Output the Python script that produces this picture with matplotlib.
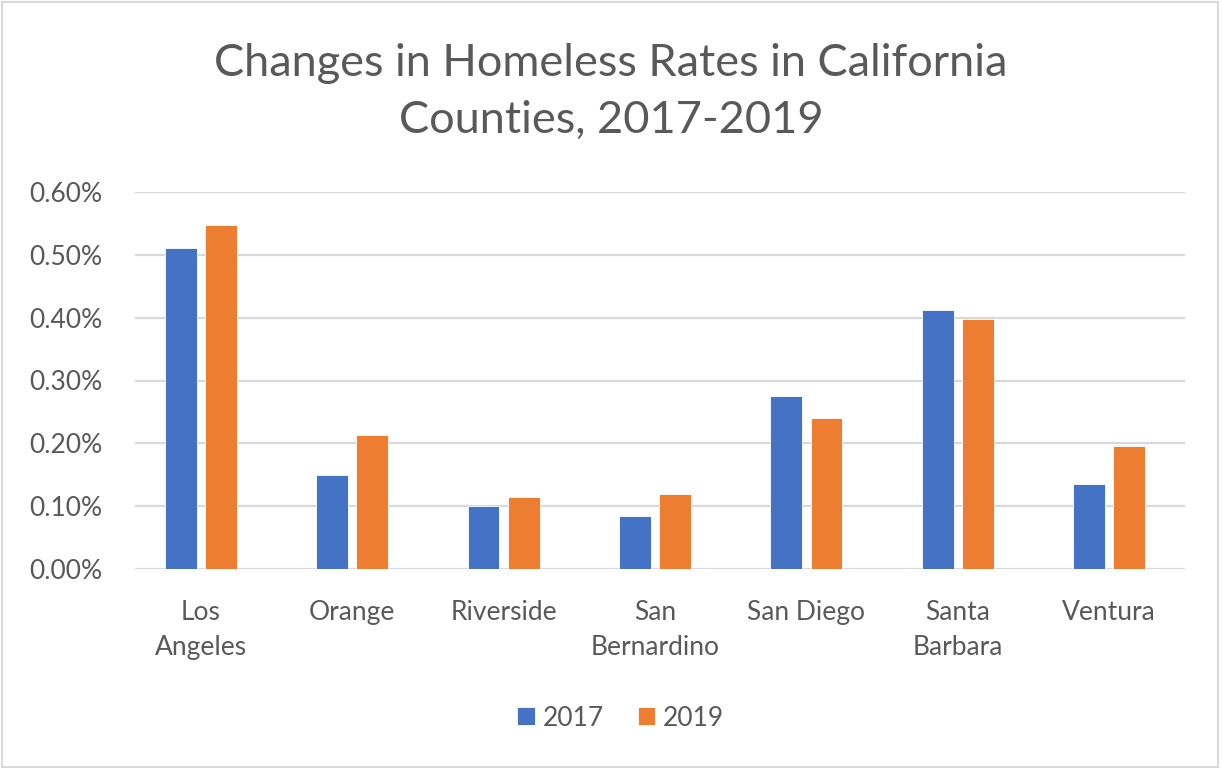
import numpy as np
import matplotlib.pyplot as plt
from matplotlib.patches import Rectangle
from matplotlib.ticker import FuncFormatter

# county labels and homeless rates (%)
counties = ['Los\nAngeles', 'Orange', 'Riverside', 'San\nBernardino',
            'San Diego', 'Santa\nBarbara', 'Ventura']
rate_2017 = [0.511, 0.150, 0.100, 0.084, 0.275, 0.412, 0.135]
rate_2019 = [0.548, 0.213, 0.114, 0.119, 0.240, 0.398, 0.196]

blue = '#4472C4'
orange = '#ED7D31'
text_gray = '#595959'

plt.rcParams['font.family'] = ['Lato', 'DejaVu Sans']

fig = plt.figure(figsize=(12.22, 7.69), dpi=100)
ax = fig.add_axes([125 / 1222, 1 - 569 / 769, 1060 / 1222, (569 - 192) / 769])

x = np.arange(len(counties))
w = 0.21
gap = 0.055
ax.bar(x - (w + gap) / 2, rate_2017, w, color=blue, edgecolor='white', linewidth=0.6, label='2017', zorder=3)
ax.bar(x + (w + gap) / 2, rate_2019, w, color=orange, edgecolor='white', linewidth=0.6, label='2019', zorder=3)

ax.set_xlim(-0.5, len(counties) - 0.5)
ax.set_ylim(0, 0.6)
yt = np.arange(0, 0.61, 0.1)
ax.set_yticks(yt)
ax.yaxis.set_major_formatter(FuncFormatter(lambda v, p: f'{v:.2f}%'))
# gridlines start a little right of the plot edge, as in the original
ax.hlines(yt, -0.434, len(counties) - 0.5, color='#D9D9D9', linewidth=1.6, zorder=0)
for s in ax.spines.values():
    s.set_visible(False)
ax.tick_params(axis='both', length=0, labelsize=19, colors=text_gray)
ax.tick_params(axis='y', pad=16)
ax.tick_params(axis='x', pad=22)
ax.set_xticks(x)
ax.set_xticklabels(counties, linespacing=1.5, va='top')

fig.text(0.5, 1 - 92 / 769, 'Changes in Homeless Rates in California\nCounties, 2017-2019',
         ha='center', va='center', fontsize=32.5, color=text_gray, linespacing=1.5)

fig.legend(loc='center', bbox_to_anchor=(0.508, 1 - 718 / 769), ncol=2, frameon=False,
           fontsize=19, labelcolor=text_gray, handlelength=0.65, handleheight=0.65,
           handletextpad=0.3, columnspacing=1.3)

# light frame around the chart
fig.patches.append(Rectangle((0.002, 0.003), 0.995, 0.994, transform=fig.transFigure,
                             fill=False, edgecolor='#D9D9D9', linewidth=1.5))

fig.savefig('out.png', dpi=100, facecolor='white')
